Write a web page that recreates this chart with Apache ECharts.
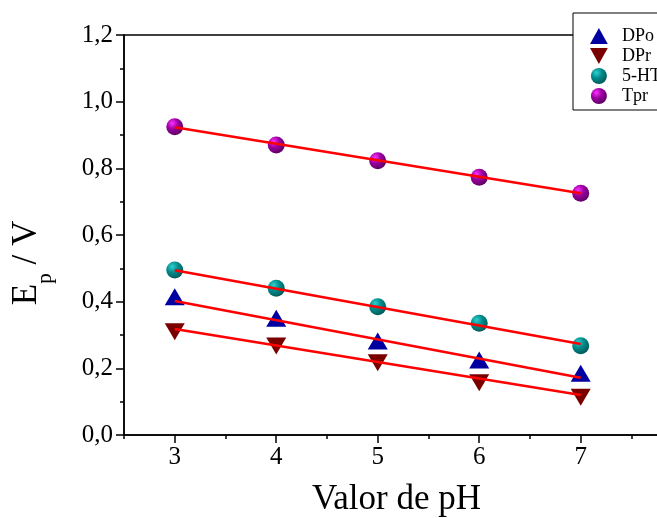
<!DOCTYPE html>
<html>
<head>
<meta charset="utf-8">
<script src="https://cdn.jsdelivr.net/npm/echarts@6/dist/echarts.min.js"></script>
<style>
    html, body { margin: 0; padding: 0; background: #fff; }
    #chart { width: 657px; height: 518px; }
</style>
</head>
<body>
<div id="chart"></div>
<script>
// pH values
const phValues = [3, 4, 5, 6, 7];
const majorTicksX = [3, 4, 5, 6, 7];
const minorTicksX = [2.5, 3.5, 4.5, 5.5, 6.5, 7.5];

// measured peak potentials (V)
const dpo = [0.415, 0.35, 0.282, 0.225, 0.185];
const dpr = [0.31, 0.267, 0.217, 0.157, 0.113];
const ht5 = [0.495, 0.44, 0.385, 0.335, 0.268];
const tpr = [0.925, 0.87, 0.823, 0.773, 0.725];

// fitted lines, endpoints at pH 3 and 7
const fitX = [3, 7];
const fitDpo = [0.402, 0.172];
const fitDpr = [0.318, 0.12];
const fitHt5 = [0.494, 0.273];
const fitTpr = [0.923, 0.725];

const serif = '"Liberation Serif", "DejaVu Serif", serif';

function pairs(xs, ys) {
    return xs.map((x, i) => [x, ys[i]]);
}

function ball(light, mid, dark) {
    return new echarts.graphic.RadialGradient(0.35, 0.3, 0.75, [
        {offset: 0, color: light},
        {offset: 0.45, color: mid},
        {offset: 1, color: dark}
    ]);
}

const downTriangle = 'path://M0,0 L10,0 L5,9 Z';
const upTriangle = 'path://M5,0 L10,9 L0,9 Z';

const chart = echarts.init(document.getElementById('chart'));

function fitSeries(ys) {
    return {
        type: 'line',
        data: pairs(fitX, ys),
        symbol: 'none',
        lineStyle: {color: '#ff0000', width: 2.5},
        silent: true,
        z: 3
    };
}

const option = {
    animation: false,
    grid: {
        left: 124, top: 35, right: -12, bottom: 83,
        outerBoundsMode: 'none',
        show: true, borderColor: '#000', borderWidth: 1.5,
        backgroundColor: 'transparent'
    },
    legend: {
        left: 573, top: 13,
        orient: 'vertical',
        data: ['DPo', 'DPr', '5-HT', 'Tpr'],
        itemWidth: 20, itemHeight: 16, itemGap: 2,
        padding: [14, 8, 5, 17],
        borderColor: '#000', borderWidth: 1,
        backgroundColor: '#fff',
        textStyle: {fontFamily: serif, fontSize: 18, color: '#000', padding: [0, 0, 0, 8]}
    },
    xAxis: [{
        type: 'value', min: 2.5, max: 7.87,
        name: 'Valor de pH', nameLocation: 'middle', nameGap: 47,
        nameTextStyle: {fontFamily: serif, fontSize: 35, color: '#000'},
        axisLine: {lineStyle: {color: '#000', width: 1.5}},
        axisTick: {customValues: majorTicksX, length: 8, lineStyle: {color: '#000', width: 1.5}},
        axisLabel: {customValues: majorTicksX, fontFamily: serif, fontSize: 25, color: '#000', margin: 10},
        splitLine: {show: false}
    }, {
        type: 'value', min: 2.5, max: 7.87, position: 'bottom',
        axisLine: {show: false},
        axisTick: {customValues: minorTicksX, length: 4, lineStyle: {color: '#000', width: 1.5}},
        axisLabel: {show: false},
        splitLine: {show: false}
    }],
    yAxis: {
        type: 'value', min: 0, max: 1.2, interval: 0.2,
        name: '{a|E}{s|p}{a| / V}', nameLocation: 'middle', nameGap: 80,
        nameTextStyle: {
            fontFamily: serif, color: '#000', padding: [0, 56, 0, 0],
            rich: {
                a: {fontFamily: serif, fontSize: 35, color: '#000'},
                s: {fontFamily: serif, fontSize: 21, color: '#000', verticalAlign: 'bottom', padding: [0, 0, -12, 0]}
            }
        },
        axisLine: {show: true, lineStyle: {color: '#000', width: 1.5}},
        axisTick: {show: true, length: 8, lineStyle: {color: '#000', width: 1.5}},
        minorTick: {show: true, splitNumber: 2, length: 4, lineStyle: {color: '#000', width: 1.5}},
        axisLabel: {
            fontFamily: serif, fontSize: 25, color: '#000', margin: 11,
            formatter: v => v.toFixed(1).replace('.', ',')
        },
        splitLine: {show: false}
    },
    series: [
        fitSeries(fitDpo),
        fitSeries(fitDpr),
        fitSeries(fitHt5),
        fitSeries(fitTpr),
        {
            name: 'DPo', type: 'scatter', data: pairs(phValues, dpo),
            symbol: upTriangle, symbolSize: [20, 17],
            itemStyle: {color: '#0000a0', opacity: 1}, z: 2
        },
        {
            name: 'DPr', type: 'scatter', data: pairs(phValues, dpr),
            symbol: downTriangle, symbolSize: [20, 17],
            itemStyle: {color: '#7a0000', opacity: 1}, z: 2
        },
        {
            name: '5-HT', type: 'scatter', data: pairs(phValues, ht5),
            symbol: 'circle', symbolSize: 17,
            itemStyle: {color: ball('#30d0d0', '#008c8c', '#005656'), opacity: 1}, z: 2
        },
        {
            name: 'Tpr', type: 'scatter', data: pairs(phValues, tpr),
            symbol: 'circle', symbolSize: 17,
            itemStyle: {color: ball('#ff30ff', '#9a00a0', '#5a0060'), opacity: 1}, z: 2
        }
    ]
};

chart.setOption(option);
</script>
</body>
</html>
